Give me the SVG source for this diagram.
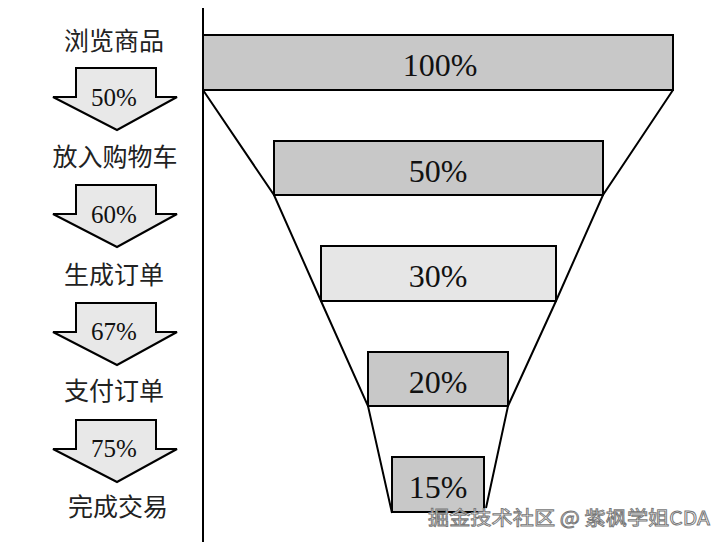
<svg xmlns="http://www.w3.org/2000/svg" width="727" height="542" viewBox="0 0 727 542">
<style>
.bar{stroke:#000;stroke-width:2}
.dark{fill:#c8c8c8}
.light{fill:#e6e6e6}
.pct{font-family:"Liberation Serif","Times New Roman",serif;font-size:32px;fill:#111;text-anchor:middle}
.apct{font-family:"Liberation Serif","Times New Roman",serif;font-size:25px;fill:#111;text-anchor:middle}
.lbl{font-family:"Liberation Serif","Noto Sans CJK SC",serif;font-size:25px;fill:#222;text-anchor:middle}
.arrow{fill:#e8e8e8;stroke:#000;stroke-width:2;stroke-linejoin:miter}
.conn{stroke:#000;stroke-width:2;fill:none}
.wm{font-family:"Noto Sans CJK SC","Liberation Sans",sans-serif;font-size:19px;fill:#fff;stroke:#777;stroke-width:0.9}
</style>
<rect width="727" height="542" fill="#fff"/>
<g id="connectors">
<line class="conn" x1="203" y1="8" x2="203" y2="542"/>
<polyline class="conn" points="203,90 274,195 321,301 368,406 392,513"/>
<polyline class="conn" points="673,90 603,195 556,301 508,406 486,508"/>
</g>
<g id="bar100"><rect class="bar dark" x="203" y="35" width="470" height="55"/><text class="pct" x="440" y="76">100%</text></g>
<g id="bar50"><rect class="bar dark" x="274" y="141" width="329" height="54"/><text class="pct" x="438" y="182">50%</text></g>
<g id="bar30"><rect class="bar light" x="321" y="246" width="235" height="55"/><text class="pct" x="438" y="287">30%</text></g>
<g id="bar20"><rect class="bar dark" x="368" y="352" width="140" height="54"/><text class="pct" x="438" y="393">20%</text></g>
<g id="bar15"><rect class="bar dark" x="392" y="457" width="92" height="55"/><text class="pct" x="438" y="498">15%</text></g>
<g id="step1"><text class="lbl" x="114" y="50">浏览商品</text></g>
<g id="arrow1"><polygon class="arrow" points="76,68 156,68 156,97 177,97 117,130 53,97 76,97"/><text class="apct" x="114" y="106">50%</text></g>
<g id="step2"><text class="lbl" x="115" y="166">放入购物车</text></g>
<g id="arrow2"><polygon class="arrow" points="76,185 156,185 156,214 177,214 117,247 53,214 76,214"/><text class="apct" x="114" y="223">60%</text></g>
<g id="step3"><text class="lbl" x="114" y="284">生成订单</text></g>
<g id="arrow3"><polygon class="arrow" points="76,303 156,303 156,332 177,332 117,365 53,332 76,332"/><text class="apct" x="114" y="340">67%</text></g>
<g id="step4"><text class="lbl" x="114" y="400">支付订单</text></g>
<g id="arrow4"><polygon class="arrow" points="76,420 156,420 156,449 177,449 117,482 53,449 76,449"/><text class="apct" x="114" y="457">75%</text></g>
<g id="step5"><text class="lbl" x="118" y="516">完成交易</text></g>
<text class="wm" x="428" y="525" textLength="282" lengthAdjust="spacingAndGlyphs">掘金技术社区 @ 紫枫学姐CDA</text>
</svg>
